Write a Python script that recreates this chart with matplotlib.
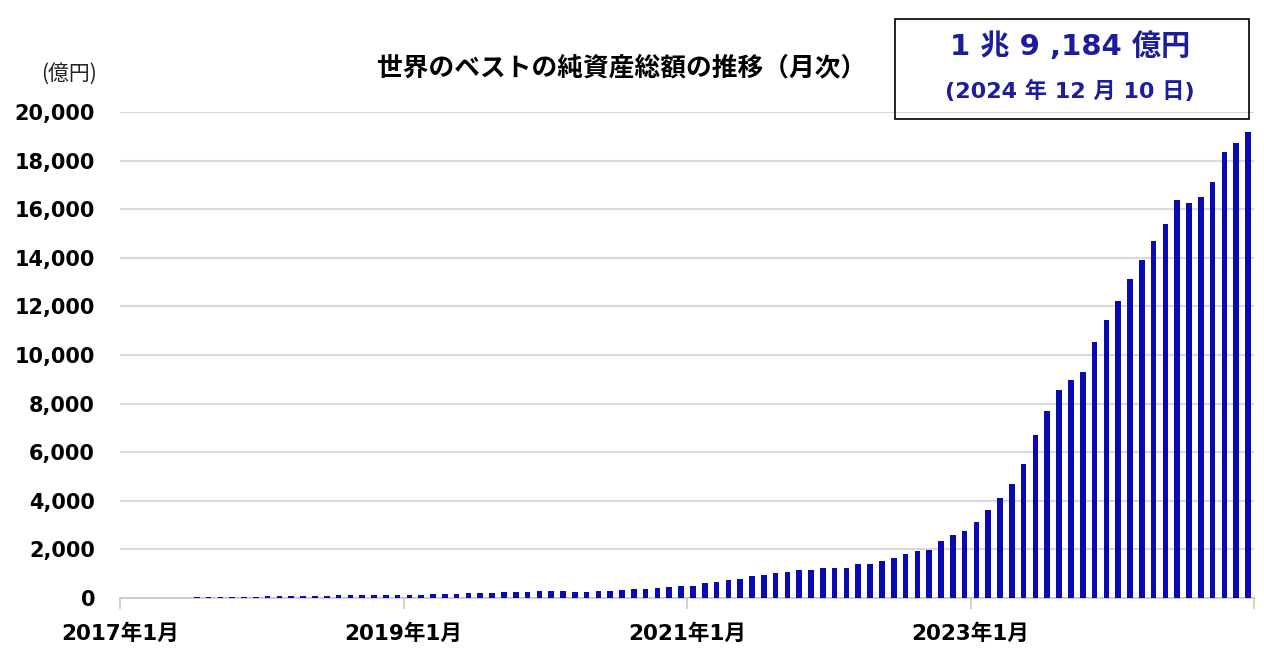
import matplotlib
matplotlib.use("Agg")
import matplotlib.pyplot as plt
from matplotlib.patches import Rectangle

plt.rcParams['font.family'] = ['DejaVu Sans', 'Noto Sans CJK JP']

# monthly labels 2017年1月 .. 2024年12月
months = ["{}年{}月".format(y, m) for y in range(2017, 2025) for m in range(1, 13)]

# net assets (億円); fund not launched before 2017年7月
assets = [0, 0, 0, 0, 0, 0,
          25, 30, 35, 40, 45, 55,
          65, 70, 80, 90, 95, 100, 105, 110, 115, 120, 125, 130,
          135, 140, 150, 165, 178, 206, 206, 206, 247, 247, 247, 288,
          288, 288, 247, 247, 288, 288, 329, 370, 370, 412, 453, 494,
          514, 597, 650, 733, 774, 897, 938, 1021, 1062, 1144, 1144, 1226,
          1226, 1226, 1391, 1391, 1514, 1638, 1802, 1926, 1967, 2337, 2584, 2757,
          3128, 3621, 4115, 4691, 5514, 6708, 7695, 8560, 8971, 9300, 10535, 11440,
          12222, 13128, 13909, 14691, 15391, 16379, 16255, 16502, 17119, 18354, 18724, 19184]

yticks = list(range(0, 20001, 2000))
xtick_labels = ["2017年1月", "2019年1月", "2021年1月", "2023年1月", ""]

title = "世界のベストの純資産総額の推移（月次）"
latest = "1 兆 9 ,184 億円"
latest_date = "(2024 年 12 月 10 日)"

bar_color = "#0a0ab2"
text_blue = "#1c1c9e"

fig = plt.figure(figsize=(12.64, 6.63), dpi=100)
ax = fig.add_axes([120 / 1264, 1 - 598 / 663, (1254 - 120) / 1264, (598 - 112) / 663])

x = list(range(len(months)))
ax.bar(x, assets, width=0.48, color=bar_color, zorder=3)

ax.set_xlim(-0.5, len(months) - 0.5)
ax.set_ylim(0, 20000)
ax.set_yticks(yticks)
ax.set_yticklabels(["{:,}".format(v) for v in yticks], fontsize=15, fontweight="bold")
ax.yaxis.grid(True, color="#d9d9d9", linewidth=1.5, zorder=0)
ax.tick_params(axis="y", length=0, pad=18)

ax.set_xticks([-0.5, 23.5, 47.5, 71.5, 95.5])
ax.set_xticklabels(xtick_labels, fontsize=15.5, fontweight="bold")
ax.tick_params(axis="x", length=8, color="#c8c8c8", width=1.2, pad=10)

for s in ["top", "right", "left"]:
    ax.spines[s].set_visible(False)
ax.spines["bottom"].set_color("#c8c8c8")
ax.spines["bottom"].set_linewidth(1.2)

fig.text(622 / 1264, 1 - 68 / 663, title, ha="center", va="center",
         fontsize=18.5, fontweight="bold", family=["Noto Sans CJK JP"])
fig.text(97 / 1264, 1 - 74 / 663, "(億円)", ha="right", va="center",
         fontsize=15, family=["Noto Sans CJK JP"], color="#222222")

fig.patches.append(Rectangle((895 / 1264, 1 - 119 / 663), 354 / 1264, 100 / 663,
                             transform=fig.transFigure, fill=False,
                             edgecolor="black", linewidth=1.2))
fig.text(1070 / 1264, 1 - 47 / 663, latest, ha="center", va="center",
         fontsize=21, fontweight="bold", color=text_blue)
fig.text(1070 / 1264, 1 - 91 / 663, latest_date, ha="center", va="center",
         fontsize=16, fontweight="bold", color=text_blue)

fig.savefig("out.png", dpi=100, facecolor="white")
